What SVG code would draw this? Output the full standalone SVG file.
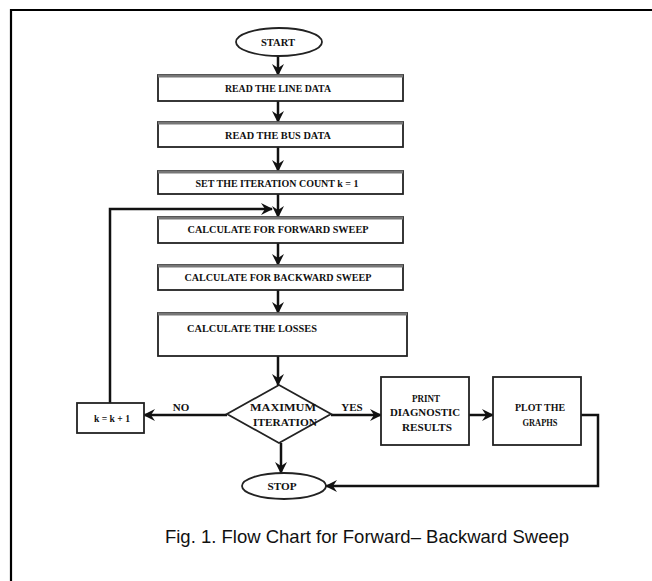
<svg xmlns="http://www.w3.org/2000/svg" width="652" height="581" viewBox="0 0 652 581">
<defs>
<style>
.box{fill:#fff;stroke:#222;stroke-width:1.8}
.top{stroke:#777;stroke-width:3}
.t{font-family:"Liberation Serif","Times New Roman",serif;font-weight:bold;font-size:11px;fill:#111;text-anchor:middle}
.c{fill:none;stroke:#111;stroke-width:2.5}
</style>
<marker id="ah" markerUnits="userSpaceOnUse" markerWidth="12" markerHeight="12" viewBox="0 0 12 12" refX="11" refY="6" orient="auto">
<path d="M0,0 L12,6 L0,12 L4,6 z" fill="#111"/>
</marker>
</defs>
<rect x="0" y="0" width="652" height="581" fill="#fff"/>
<polyline points="11,582 11,10 653,10" fill="none" stroke="#000" stroke-width="2.2"/>

<g id="connectors">
<line class="c" x1="278" y1="56" x2="278" y2="75" marker-end="url(#ah)"/>
<line class="c" x1="278" y1="101" x2="278" y2="122" marker-end="url(#ah)"/>
<line class="c" x1="278" y1="147" x2="278" y2="171" marker-end="url(#ah)"/>
<line class="c" x1="278" y1="194" x2="278" y2="217" marker-end="url(#ah)"/>
<polyline class="c" points="110,403 110,209 272,209" marker-end="url(#ah)"/>
<line class="c" x1="278" y1="243" x2="278" y2="265" marker-end="url(#ah)"/>
<line class="c" x1="278" y1="290" x2="278" y2="313" marker-end="url(#ah)"/>
<line class="c" x1="278" y1="356" x2="278" y2="385" marker-end="url(#ah)"/>
<line class="c" x1="227" y1="415" x2="144" y2="415" marker-end="url(#ah)"/>
<line class="c" x1="331" y1="415" x2="381" y2="415" marker-end="url(#ah)"/>
<line class="c" x1="469" y1="415" x2="493" y2="415" marker-end="url(#ah)"/>
<polyline class="c" points="581,415 598,415 598,486 326,486" marker-end="url(#ah)"/>
<line class="c" x1="281" y1="443" x2="281" y2="473" marker-end="url(#ah)"/>
<text class="t" x="181" y="411" font-size="10">NO</text>
<text class="t" x="352" y="411" font-size="10">YES</text>
</g>

<g id="start">
<ellipse cx="279" cy="42" rx="43" ry="14" fill="#fff" stroke="#222" stroke-width="1.8"/>
<text class="t" x="278" y="46" textLength="34" lengthAdjust="spacingAndGlyphs">START</text>
</g>
<g id="read-line">
<rect class="box" x="158" y="75" width="245" height="26"/>
<line class="top" x1="158" y1="76" x2="403" y2="76"/>
<text class="t" x="278" y="92" textLength="106" lengthAdjust="spacingAndGlyphs">READ THE LINE DATA</text>
</g>
<g id="read-bus">
<rect class="box" x="158" y="122" width="245" height="25"/>
<line class="top" x1="158" y1="123" x2="403" y2="123"/>
<text class="t" x="278" y="139" textLength="106" lengthAdjust="spacingAndGlyphs">READ THE  BUS DATA</text>
</g>
<g id="set-count">
<rect class="box" x="158" y="171" width="245" height="23"/>
<line class="top" x1="158" y1="172" x2="403" y2="172"/>
<text class="t" x="277" y="187" textLength="163" lengthAdjust="spacingAndGlyphs">SET THE ITERATION COUNT  k = 1</text>
</g>
<g id="forward">
<rect class="box" x="158" y="217" width="245" height="26"/>
<line class="top" x1="158" y1="218" x2="403" y2="218"/>
<text class="t" x="278" y="233" textLength="181" lengthAdjust="spacingAndGlyphs">CALCULATE FOR FORWARD SWEEP</text>
</g>
<g id="backward">
<rect class="box" x="158" y="265" width="245" height="25"/>
<line class="top" x1="158" y1="266" x2="403" y2="266"/>
<text class="t" x="278" y="281" textLength="187" lengthAdjust="spacingAndGlyphs">CALCULATE FOR BACKWARD SWEEP</text>
</g>
<g id="losses">
<rect class="box" x="158" y="313" width="249" height="43"/>
<line class="top" x1="158" y1="314" x2="407" y2="314"/>
<text class="t" x="187" y="332" style="text-anchor:start" textLength="130" lengthAdjust="spacingAndGlyphs">CALCULATE THE   LOSSES</text>
</g>
<g id="decision">
<polygon points="279,385 331,414 279,443 227,414" fill="#fff" stroke="#222" stroke-width="1.8"/>
<text class="t" x="283" y="411" textLength="66" lengthAdjust="spacingAndGlyphs">MAXIMUM</text>
<text class="t" x="285" y="426" textLength="64" lengthAdjust="spacingAndGlyphs">ITERATION</text>
</g>
<g id="increment">
<rect class="box" x="77" y="403" width="67" height="30"/>
<text class="t" x="112" y="422" textLength="36" lengthAdjust="spacingAndGlyphs">k = k + 1</text>
</g>
<g id="print">
<rect class="box" x="381" y="377" width="88" height="68"/>
<text class="t" x="426" y="402" textLength="28" lengthAdjust="spacingAndGlyphs">PRINT</text>
<text class="t" x="425" y="416" textLength="70" lengthAdjust="spacingAndGlyphs">DIAGNOSTIC</text>
<text class="t" x="427" y="431" textLength="50" lengthAdjust="spacingAndGlyphs">RESULTS</text>
</g>
<g id="plot">
<rect class="box" x="493" y="377" width="88" height="68"/>
<text class="t" x="540" y="411" textLength="50" lengthAdjust="spacingAndGlyphs">PLOT THE</text>
<text class="t" x="540" y="426" textLength="35" lengthAdjust="spacingAndGlyphs">GRAPHS</text>
</g>
<g id="stop">
<ellipse cx="284" cy="486" rx="42" ry="13" fill="#fff" stroke="#222" stroke-width="1.8"/>
<text class="t" x="282" y="490" textLength="29" lengthAdjust="spacingAndGlyphs">STOP</text>
</g>
<text x="367" y="543" font-family="'Liberation Sans',Arial,sans-serif" font-size="18.5" fill="#111" text-anchor="middle">Fig. 1. Flow Chart for Forward– Backward Sweep</text>
</svg>
